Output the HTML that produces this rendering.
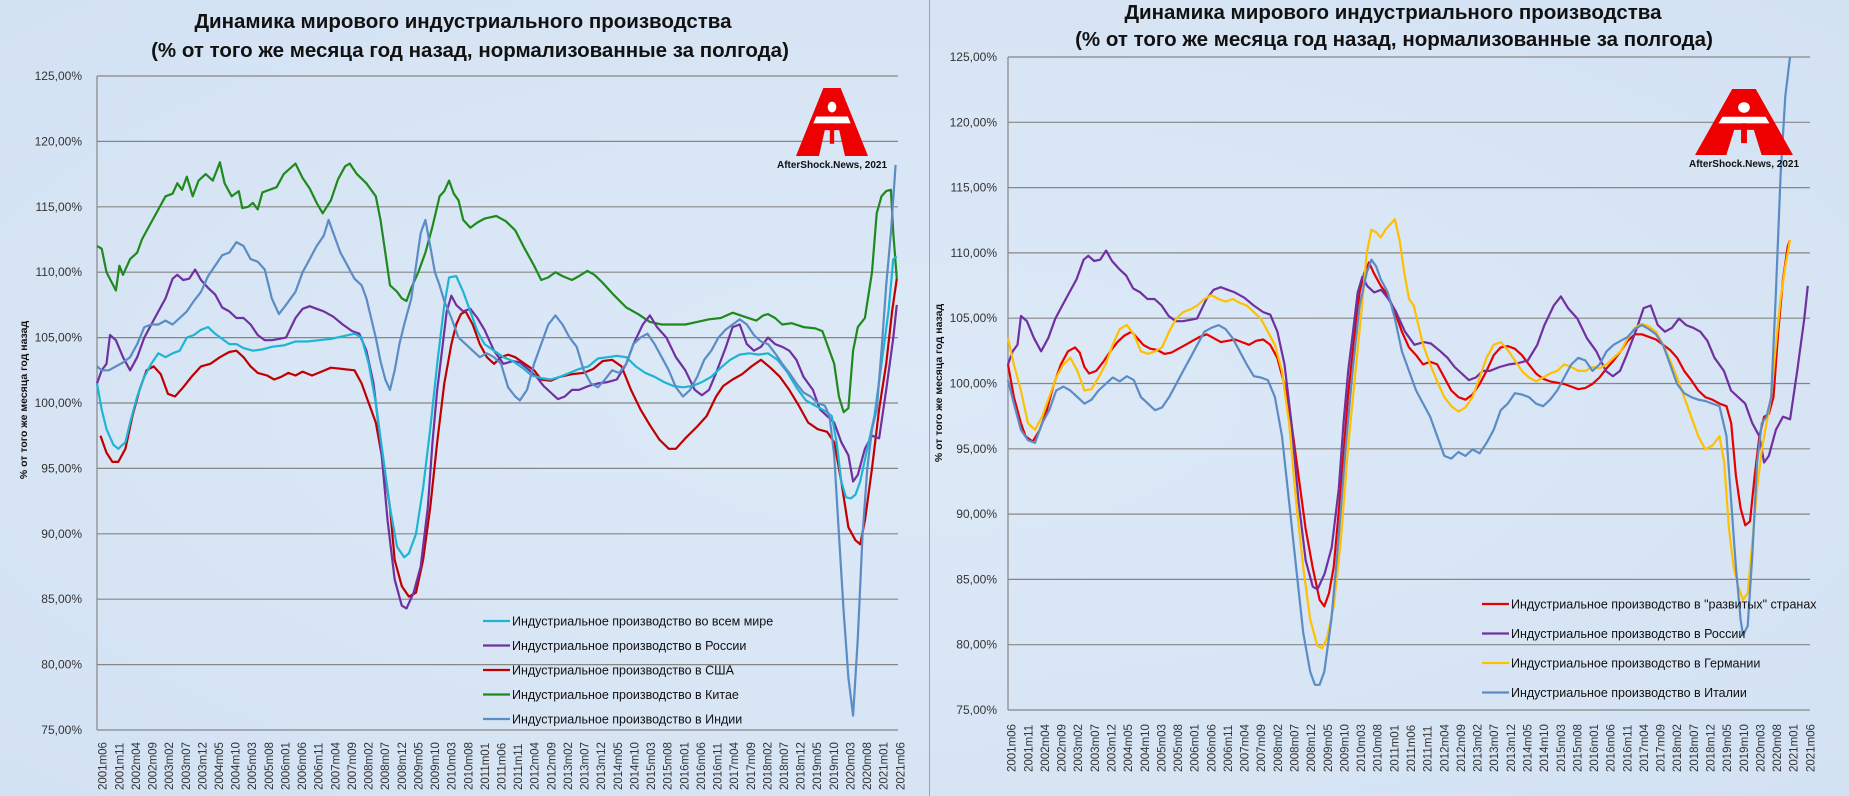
<!DOCTYPE html>
<html><head><meta charset="utf-8">
<style>
html,body{margin:0;padding:0;}
body{width:1849px;height:796px;overflow:hidden;background:#d8e6f5;font-family:"Liberation Sans",sans-serif;}
svg{position:absolute;left:0;top:0;}
</style></head>
<body>
<svg id="s" width="1849" height="796" xmlns="http://www.w3.org/2000/svg">
<defs>
<radialGradient id="bg1" cx="50%" cy="50%" r="70%"><stop offset="0" stop-color="#dde9f7"/><stop offset="1" stop-color="#d3e2f3"/></radialGradient>
</defs>
<rect width="1849" height="796" fill="url(#bg1)"/>
<line x1="929.5" y1="0" x2="929.5" y2="796" stroke="#9aa3ad" stroke-width="1"/>
<g font-family="Liberation Sans, sans-serif" font-weight="bold" fill="#111" text-anchor="middle">
<text x="463" y="28" font-size="20.5">Динамика мирового индустриального производства</text>
<text x="470" y="57" font-size="20.5">(% от того же месяца год назад, нормализованные за полгода)</text>
<text x="1393" y="19" font-size="20.5">Динамика мирового индустриального производства</text>
<text x="1394" y="46" font-size="20.5">(% от того же месяца год назад, нормализованные за полгода)</text>
</g>
<g font-family="Liberation Sans, sans-serif" font-weight="bold" font-size="10.5" fill="#111" text-anchor="middle">
<text transform="translate(27,400) rotate(-90)">% от того же месяца год назад</text>
<text transform="translate(942,383) rotate(-90)">% от того же месяца год назад</text>
</g>
<g id="g"></g>
</svg>
<script>
var NS="http://www.w3.org/2000/svg";
var g=document.getElementById('g');
function el(t,a,txt){var e=document.createElementNS(NS,t);for(var k in a)e.setAttribute(k,a[k]);if(txt!==undefined)e.textContent=txt;g.appendChild(e);return e;}
function chart(L,R,T,B,labX,xlabEnd,xoff){
  var step=(B-T)/10;
  for(var i=0;i<=10;i++){var y=T+i*step;var v=125-5*i;
    el('line',{x1:L,x2:R,y1:y,y2:y,stroke:'#868686','stroke-width':1.2});
    el('text',{x:labX,y:y+4,'font-size':12,'text-anchor':'end',fill:'#333','font-family':'Liberation Sans, sans-serif'},v.toFixed(2).replace('.',',')+'%');
  }
  el('line',{x1:L,x2:L,y1:T,y2:B,stroke:'#868686','stroke-width':1.2});
  var w=(R-L)/241;
  for(var k=0;k<49;k++){var m=k*5+5;var yr=2001+Math.floor(m/12);var mo=m%12+1;
    var x=L+w*(k*5+0.5)+xoff;
    el('text',{transform:'translate('+x+','+xlabEnd+') rotate(-90)','font-size':11.5,fill:'#333','font-family':'Liberation Sans, sans-serif'},yr+'m'+(mo<10?'0':'')+mo);
  }
}
chart(97,898,76,730,82,790,8);
chart(1008,1810,57,710,997,772,6);
function series(pts,x0,px0,sc,T,col,sw){
  var d='';
  for(var i=0;i<pts.length;i++){var x=x0+(pts[i][0]-px0)*sc;var y=T+(125-pts[i][1])*13.08;d+=(i?'L':'M')+x.toFixed(1)+' '+y.toFixed(1);}
  el('path',{d:d,fill:'none',stroke:col,'stroke-width':sw||2.2,'stroke-linejoin':'round'});
}
var china=[[82,112],[86,111.8],[90,110],[98,108.6],[101,110.5],[104,109.8],[110,111],[116,111.5],[120,112.5],[126,113.5],[134,114.8],[140,115.8],[146,116],[150,116.8],[154,116.3],[158,117.3],[163,115.8],[168,117],[174,117.5],[180,117],[186,118.4],[190,116.8],[196,115.8],[202,116.2],[205,114.9],[210,115],[214,115.3],[218,114.8],[222,116.1],[228,116.3],[234,116.5],[240,117.5],[250,118.3],[256,117.2],[262,116.4],[268,115.3],[273,114.5],[280,115.5],[286,117.1],[292,118.1],[296,118.3],[302,117.5],[310,116.8],[318,115.8],[322,114],[326,111.5],[330,109],[336,108.5],[340,108],[344,107.8],[348,108.8],[354,110],[360,111.5],[366,113.5],[372,115.8],[376,116.2],[380,117],[384,116],[388,115.5],[392,114],[398,113.4],[404,113.8],[410,114.1],[420,114.3],[428,113.9],[436,113.2],[444,111.8],[452,110.5],[458,109.4],[464,109.6],[470,110],[476,109.7],[484,109.4],[490,109.7],[497,110.1],[503,109.8],[510,109.2],[520,108.2],[530,107.3],[540,106.8],[550,106.2],[560,106],[570,106],[580,106],[590,106.2],[600,106.4],[610,106.5],[620,106.9],[630,106.6],[640,106.3],[646,106.7],[650,106.8],[656,106.5],[662,106],[670,106.1],[680,105.8],[690,105.7],[696,105.5],[700,104.5],[706,103],[710,100.5],[714,99.3],[718,99.6],[722,104],[726,105.8],[732,106.5],[738,110],[742,114.5],[746,115.8],[750,116.2],[754,116.3],[756,113],[759,109.5]];
var usa=[[85,97.5],[90,96.2],[95,95.5],[100,95.5],[106,96.5],[112,99],[118,101],[124,102.5],[130,102.8],[136,102.2],[142,100.7],[148,100.5],[155,101.2],[162,102],[170,102.8],[178,103],[186,103.5],[194,103.9],[200,104],[206,103.5],[212,102.8],[218,102.3],[226,102.1],[232,101.8],[238,102],[244,102.3],[250,102.1],[256,102.4],[264,102.1],[272,102.4],[280,102.7],[290,102.6],[300,102.5],[306,101.5],[312,100],[318,98.5],[324,95.5],[330,92],[334,88],[340,86],[346,85.2],[352,85.5],[358,88],[364,92],[370,97],[376,101.5],[382,104.5],[386,106],[390,106.8],[394,107],[400,106],[406,104.5],[412,103.5],[418,103],[424,103.5],[430,103.7],[436,103.5],[444,103],[452,102.5],[458,101.8],[466,101.7],[474,102],[484,102.2],[494,102.3],[502,102.6],[510,103.2],[518,103.3],[526,102.8],[534,101],[542,99.5],[550,98.3],[558,97.2],[566,96.5],[572,96.5],[580,97.3],[590,98.2],[598,99],[606,100.5],[612,101.3],[620,101.8],[628,102.2],[636,102.8],[644,103.3],[652,102.7],[660,102],[668,101],[676,99.8],[684,98.5],[692,98],[700,97.8],[706,97],[712,94],[718,90.5],[724,89.5],[728,89.2],[732,91],[738,95],[744,99.5],[750,103],[755,107],[759,109.5]];
var rus=[[82,101.5],[86,102.5],[90,103],[93,105.2],[98,104.8],[104,103.5],[110,102.5],[116,103.5],[122,105],[128,106],[134,107],[140,108],[146,109.5],[150,109.8],[155,109.4],[160,109.5],[165,110.2],[170,109.4],[176,108.8],[182,108.3],[188,107.3],[194,107],[200,106.5],[206,106.5],[212,106],[218,105.2],[224,104.8],[230,104.8],[236,104.9],[242,105],[250,106.5],[256,107.2],[262,107.4],[268,107.2],[274,107],[282,106.6],[290,106],[298,105.5],[304,105.3],[310,104],[316,101.5],[322,97],[328,91],[334,86.5],[340,84.5],[344,84.3],[350,85.5],[356,87.5],[362,92],[366,97],[370,101],[374,104],[378,107],[382,108.2],[386,107.5],[392,107],[398,107.2],[404,106.5],[410,105.6],[418,104],[426,103],[434,103.2],[440,103.1],[448,102.5],[454,102],[460,101.3],[466,100.8],[472,100.3],[478,100.5],[484,101],[490,101],[498,101.3],[506,101.5],[514,101.6],[522,101.8],[530,103],[536,104.5],[544,106],[550,106.7],[556,105.8],[564,105],[572,103.5],[580,102.5],[588,101],[594,100.6],[600,101],[606,102.3],[614,104.2],[620,105.8],[626,106],[632,104.5],[638,104],[644,104.3],[650,105],[656,104.5],[662,104.3],[668,104],[674,103.3],[680,102],[688,101],[694,99.5],[700,99],[706,98.5],[712,97],[718,96],[722,94],[726,94.5],[732,96.5],[738,97.5],[744,97.3],[750,101],[756,105],[759,107.5]];
var world=[[82,101.5],[86,99.5],[90,98],[96,96.8],[100,96.5],[106,97],[110,98.5],[116,100.5],[122,102],[128,103],[134,103.8],[140,103.5],[146,103.8],[152,104],[158,105],[164,105.2],[170,105.6],[176,105.8],[182,105.3],[188,104.9],[194,104.5],[200,104.5],[206,104.2],[214,104],[222,104.1],[230,104.3],[240,104.4],[250,104.7],[260,104.7],[270,104.8],[280,104.9],[290,105.1],[300,105.3],[306,105],[312,103],[318,100],[324,96],[330,92],[336,89],[342,88.2],[346,88.5],[352,90],[358,93.5],[364,98],[370,103],[376,107.5],[380,109.6],[386,109.7],[392,108.5],[398,107],[404,105.5],[410,104.5],[418,104],[426,103.5],[434,103.2],[442,102.7],[450,102.1],[458,101.9],[466,101.8],[474,102],[482,102.3],[490,102.6],[498,102.8],[506,103.4],[514,103.5],[522,103.6],[530,103.5],[538,102.8],[546,102.3],[554,102],[562,101.6],[570,101.3],[578,101.2],[586,101.3],[594,101.6],[602,102],[610,102.7],[618,103.3],[626,103.7],[634,103.8],[642,103.7],[650,103.8],[658,103.3],[666,102.4],[674,101.2],[682,100.2],[690,99.8],[698,99.4],[704,99],[708,97],[712,94],[716,92.8],[720,92.7],[724,93],[728,94],[734,96.5],[740,99],[746,103],[752,107],[756,111],[759,111.2]];
var india=[[82,102.8],[86,102.5],[92,102.5],[98,102.8],[104,103.1],[110,103.5],[116,104.5],[122,105.8],[128,106],[134,106],[140,106.3],[146,106],[152,106.5],[158,107],[164,107.8],[170,108.5],[176,109.7],[182,110.5],[188,111.3],[194,111.5],[200,112.3],[206,112],[212,111],[218,110.8],[224,110.2],[230,108],[236,106.8],[242,107.5],[250,108.5],[256,110],[262,111],[268,112],[274,112.8],[278,114],[282,113],[288,111.5],[294,110.5],[300,109.5],[306,109],[310,108],[314,106.5],[318,105],[322,103.2],[326,101.8],[330,101],[334,102.5],[338,104.5],[342,106],[348,108],[352,110.5],[356,113],[360,114],[364,112],[368,110],[372,109],[376,107.8],[382,106.5],[388,105],[394,104.5],[400,104],[406,103.5],[412,103.8],[418,103.5],[424,103],[430,101.2],[436,100.5],[440,100.2],[446,101],[452,103],[458,104.5],[464,106],[470,106.7],[476,106],[482,105],[488,104.3],[494,102.5],[500,101.5],[506,101.2],[512,101.8],[518,102.5],[524,102.3],[530,103],[536,104.5],[542,105],[548,105.3],[554,104.5],[560,103.5],[566,102.5],[572,101.2],[578,100.5],[584,101],[590,102],[596,103.3],[602,104],[608,105],[614,105.6],[620,106],[626,106.4],[632,106],[638,105.2],[644,104.7],[650,104.5],[656,103.8],[662,103],[668,102.3],[674,101.5],[680,100.8],[686,100.5],[692,100],[698,99.8],[702,99],[706,96],[710,90],[714,84],[718,79],[722,76.1],[726,82],[730,90],[734,95],[738,98],[742,99.5],[746,104],[750,109],[754,113],[758,118.2]];
var sL=801/678;
series(china,97,82,sL,76,'#1e8a1e');
series(usa,97,82,sL,76,'#c00000');
series(rus,97,82,sL,76,'#7030a0');
series(world,97,82,sL,76,'#1fb4d4');
series(india,97,82,sL,76,'#5b8cc5');
var dev=[[853,101.5],[858,99],[864,97],[868,96],[874,95.6],[880,96.5],[886,98],[892,100],[898,101.5],[904,102.5],[910,102.8],[914,102.4],[918,101.3],[922,100.8],[928,101],[934,101.7],[940,102.5],[946,103.2],[952,103.7],[958,104],[962,103.6],[968,103],[974,102.7],[980,102.6],[986,102.3],[992,102.4],[998,102.7],[1004,103],[1010,103.3],[1016,103.6],[1022,103.8],[1028,103.5],[1034,103.2],[1040,103.3],[1046,103.4],[1052,103.2],[1058,103],[1064,103.3],[1070,103.4],[1076,103],[1082,102],[1088,100],[1094,97],[1100,93],[1106,89],[1112,86],[1118,83.5],[1122,83],[1126,84],[1130,86],[1136,92],[1142,99],[1148,104],[1152,107],[1156,108.5],[1160,109.3],[1164,108.5],[1170,107.5],[1176,106.8],[1182,105.5],[1188,104],[1194,102.8],[1200,102.2],[1206,101.5],[1212,101.7],[1218,101.5],[1224,100.5],[1230,99.5],[1236,99],[1242,98.8],[1248,99.2],[1254,100],[1260,101],[1266,102.2],[1272,102.8],[1278,102.9],[1284,102.7],[1290,102.2],[1296,101.5],[1302,100.8],[1308,100.4],[1314,100.2],[1320,100.1],[1326,100],[1332,99.8],[1338,99.6],[1344,99.7],[1350,100],[1356,100.5],[1362,101.2],[1368,101.8],[1374,102.5],[1380,103.3],[1386,103.8],[1392,103.8],[1398,103.6],[1404,103.4],[1410,103],[1416,102.6],[1422,102],[1428,101],[1434,100.3],[1440,99.5],[1446,99],[1452,98.8],[1458,98.5],[1464,98.3],[1468,97],[1472,93],[1476,90.5],[1480,89.2],[1484,89.5],[1488,93],[1492,96],[1496,97.5],[1500,97.7],[1504,99],[1508,104],[1512,108],[1516,110.5],[1518,111]];
var ger=[[853,103.5],[858,101.5],[864,99.5],[870,97],[876,96.5],[882,97.5],[888,99],[894,100.5],[900,101.5],[906,102],[912,101],[918,99.5],[924,99.6],[930,100.5],[936,101.5],[942,103],[948,104.2],[954,104.5],[960,103.8],[966,102.5],[972,102.3],[978,102.5],[984,102.8],[990,104],[996,105],[1002,105.5],[1008,105.7],[1014,106],[1020,106.5],[1026,106.8],[1032,106.5],[1038,106.3],[1044,106.5],[1050,106.2],[1056,106],[1062,105.5],[1068,105],[1074,104],[1080,103],[1086,101],[1092,97],[1098,91],[1104,86],[1110,82],[1116,80],[1120,79.8],[1124,80.5],[1130,83],[1136,88],[1142,95],[1148,100.5],[1154,106],[1158,110],[1162,111.8],[1166,111.6],[1170,111.2],[1174,111.8],[1178,112.2],[1182,112.6],[1186,111],[1190,108.5],[1194,106.5],[1198,106],[1202,104.5],[1206,103],[1212,101.5],[1218,100.2],[1224,99],[1230,98.3],[1236,97.9],[1242,98.2],[1248,99],[1254,100.5],[1260,102],[1266,103],[1272,103.2],[1278,102.6],[1284,101.8],[1290,101],[1296,100.5],[1302,100.2],[1308,100.5],[1314,100.8],[1320,101],[1326,101.5],[1332,101.3],[1338,101],[1344,101],[1350,101.3],[1356,101.2],[1362,101.5],[1368,102],[1374,102.5],[1380,103.5],[1386,104.3],[1392,104.6],[1398,104.4],[1404,104],[1410,103],[1416,101.8],[1422,100.5],[1428,99],[1434,97.5],[1440,96],[1446,95],[1452,95.3],[1458,96],[1462,94],[1466,89],[1470,86],[1474,84.5],[1478,83.5],[1482,84],[1486,88],[1490,92],[1494,95],[1498,97],[1502,99],[1506,103],[1510,106.5],[1514,109],[1518,111]];
var ita=[[853,100.3],[858,98.5],[864,96.5],[870,95.7],[876,95.5],[882,97],[888,98],[894,99.5],[900,99.8],[906,99.5],[912,99],[918,98.5],[924,98.8],[930,99.5],[936,100],[942,100.5],[948,100.2],[954,100.6],[960,100.3],[966,99],[972,98.5],[978,98],[984,98.2],[990,99],[996,100],[1002,101],[1008,102],[1014,103],[1020,104],[1026,104.3],[1032,104.5],[1038,104.2],[1044,103.5],[1050,102.5],[1056,101.5],[1062,100.6],[1068,100.5],[1074,100.3],[1080,99],[1086,96],[1092,91],[1098,86],[1104,81],[1110,78],[1114,77],[1118,77],[1122,78],[1128,82],[1134,88],[1140,95],[1146,101],[1152,106],[1158,108.5],[1162,109.5],[1166,109],[1170,108],[1176,107],[1182,105],[1188,102.5],[1194,101],[1200,99.5],[1206,98.5],[1212,97.5],[1218,96],[1224,94.5],[1230,94.3],[1236,94.8],[1242,94.5],[1248,95],[1254,94.7],[1260,95.5],[1266,96.5],[1272,98],[1278,98.5],[1284,99.3],[1290,99.2],[1296,99],[1302,98.5],[1308,98.3],[1314,98.8],[1320,99.5],[1326,100.5],[1332,101.5],[1338,102],[1344,101.8],[1350,101],[1356,101.5],[1362,102.5],[1368,103],[1374,103.3],[1380,103.6],[1386,104.2],[1392,104.5],[1398,104.2],[1404,103.8],[1410,103],[1416,101.5],[1422,100],[1428,99.3],[1434,99],[1440,98.8],[1446,98.7],[1452,98.5],[1458,98.3],[1464,96],[1468,91],[1472,86],[1476,82],[1478,80.8],[1482,81.5],[1486,87],[1490,94],[1494,97],[1498,97.5],[1502,99],[1506,107],[1510,116],[1514,122],[1518,125]];
var sR=802/682;
series(dev,1008,853,sR,57,'#e60000');
series(rus,1008,82,sL,57,'#7030a0');
series(ger,1008,853,sR,57,'#ffc000');
series(ita,1008,853,sR,57,'#5b8cc5');
function legend(x,y0,dy,items){for(var i=0;i<items.length;i++){var y=y0+i*dy;
  el('line',{x1:x,x2:x+27,y1:y,y2:y,stroke:items[i][1],'stroke-width':2.2});
  el('text',{x:x+29,y:y+4.5,'font-size':12.5,fill:'#111','font-family':'Liberation Sans, sans-serif'},items[i][0]);}}
legend(483,621,24.5,[['Индустриальное производство во всем мире','#1fb4d4'],['Индустриальное производство в России','#7030a0'],['Индустриальное производство в США','#c00000'],['Индустриальное производство в Китае','#1e8a1e'],['Индустриальное производство в Индии','#5b8cc5']]);
legend(1482,604,29.5,[['Индустриальное производство в "развитых" странах','#e60000'],['Индустриальное производство в России','#7030a0'],['Индустриальное производство в Германии','#ffc000'],['Индустриальное производство в Италии','#5b8cc5']]);
function logo(cx,top,w,h,ty){
  var l=cx-w/2,r=cx+w/2,b=top+h;
  el('path',{d:'M'+(cx-w*0.12)+' '+top+'L'+(cx+w*0.12)+' '+top+'L'+r+' '+b+'L'+(cx+w*0.18)+' '+b+'L'+(cx+w*0.1)+' '+(top+h*0.62)+'L'+(cx-w*0.1)+' '+(top+h*0.62)+'L'+(cx-w*0.18)+' '+b+'L'+l+' '+b+'Z',fill:'#ee0000'});
  el('path',{d:'M'+(cx-w*0.22)+' '+(top+h*0.42)+'L'+(cx+w*0.22)+' '+(top+h*0.42)+'L'+(cx+w*0.26)+' '+(top+h*0.52)+'L'+(cx-w*0.26)+' '+(top+h*0.52)+'Z',fill:'#fff'});
  el('rect',{x:cx-w*0.03,y:top+h*0.52,width:w*0.06,height:h*0.3,fill:'#ee0000'});
  el('ellipse',{cx:cx,cy:top+h*0.28,rx:w*0.06,ry:h*0.08,fill:'#fff'});
  el('text',{x:cx,y:ty,'font-size':10,'font-weight':'bold','text-anchor':'middle',fill:'#111','font-family':'Liberation Sans, sans-serif'},'AfterShock.News, 2021');
}
logo(832,88,72,68,168);
logo(1744,89,98,66,167);
</script>
</body></html>
